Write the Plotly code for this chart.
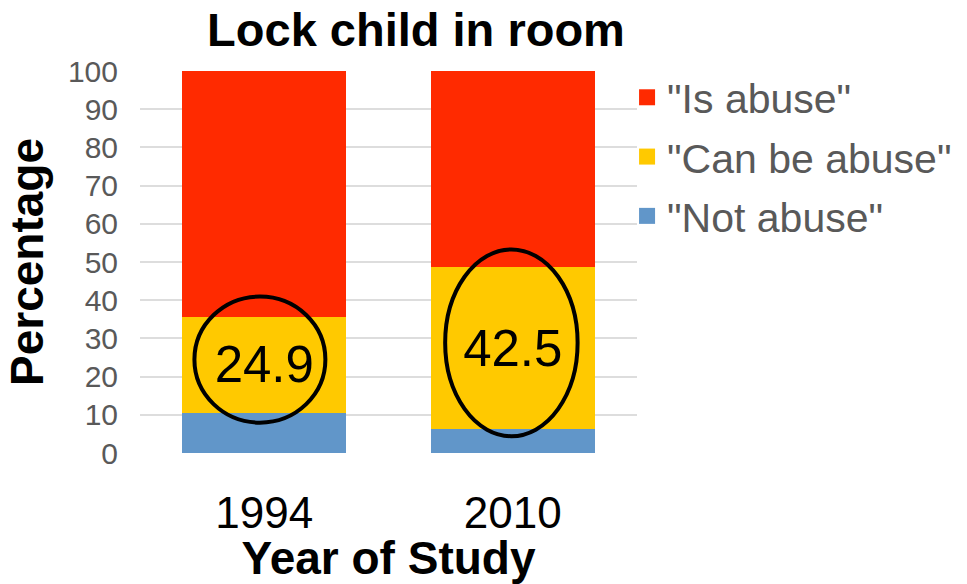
import plotly.graph_objects as go

# Survey results: share of respondents rating "lock child in room"
years = ["1994", "2010"]
not_abuse = [10.6, 6.2]
can_be_abuse = [24.9, 42.5]
is_abuse = [64.5, 51.3]
y_ticks = [0, 10, 20, 30, 40, 50, 60, 70, 80, 90, 100]

FONT = "Liberation Sans, Arial, sans-serif"
GRAY = "#595959"
COLORS = {"not": "#6196C9", "can": "#FFC900", "is": "#FF2A00"}

fig = go.Figure()
fig.add_trace(go.Bar(x=years, y=not_abuse, name='"Not abuse"',
                     marker=dict(color=COLORS["not"], line=dict(width=0)),
                     showlegend=False))
fig.add_trace(go.Bar(x=years, y=can_be_abuse, name='"Can be abuse"',
                     marker=dict(color=COLORS["can"], line=dict(width=0)),
                     text=[f"{v}" for v in can_be_abuse],
                     textposition="inside", insidetextanchor="middle",
                     textangle=0, constraintext="none",
                     textfont=dict(size=51, color="black", family=FONT),
                     showlegend=False))
fig.add_trace(go.Bar(x=years, y=is_abuse, name='"Is abuse"',
                     marker=dict(color=COLORS["is"], line=dict(width=0)),
                     showlegend=False))

# Legend entries with larger square keys
for rank, (key, label) in enumerate([("is", '"Is abuse"'),
                                      ("can", '"Can be abuse"'),
                                      ("not", '"Not abuse"')]):
    fig.add_trace(go.Scatter(x=[None], y=[None], mode="markers", name=label,
                             marker=dict(symbol="square", size=22, color=COLORS[key],
                                         line=dict(width=0)),
                             legendgroup=key, legendrank=rank + 1))

# Ellipses highlighting the "Can be abuse" segment of each bar
ellipse_half_width = [(-0.281, 0.246), (-0.272, 0.261)]
ellipse_half_height = [16.5, 24.45]
ellipse_lift = 1.4
for i in range(len(years)):
    mid = not_abuse[i] + can_be_abuse[i] / 2 + ellipse_lift
    fig.add_shape(type="circle", xref="x", yref="y",
                  x0=i + ellipse_half_width[i][0], x1=i + ellipse_half_width[i][1],
                  y0=mid - ellipse_half_height[i], y1=mid + ellipse_half_height[i],
                  line=dict(color="black", width=4), layer="above")

fig.update_layout(
    barmode="stack",
    bargap=0.34,
    width=967, height=584,
    margin=dict(l=140, r=330, t=71, b=131, autoexpand=False),
    plot_bgcolor="white", paper_bgcolor="white",
    font=dict(family=FONT, color=GRAY),
    title=dict(text="Lock child in room", x=416 / 967, xref="container",
               y=1 - 30 / 584, yanchor="middle", xanchor="center",
               font=dict(size=47, color="black", family=FONT, weight="bold")),
    legend=dict(x=0.98, xanchor="left", y=1.018, yanchor="top",
                traceorder="grouped", tracegroupgap=3, itemsizing="trace",
                font=dict(size=41, color=GRAY, family=FONT),
                bgcolor="rgba(0,0,0,0)", itemwidth=30),
    xaxis=dict(type="category", showgrid=False, showline=False, zeroline=False,
               ticks="outside", ticklen=21, tickcolor="rgba(0,0,0,0)",
               tickfont=dict(size=44, color="black", family=FONT),
               title=dict(text="Year of Study", standoff=12,
                          font=dict(size=46, color="black", family=FONT, weight="bold"))),
    yaxis=dict(range=[0, 100], tickvals=y_ticks, showgrid=True,
               gridcolor="#DDDDDD", gridwidth=2, zeroline=False, showline=False,
               ticks="outside", ticklen=15, tickcolor="rgba(0,0,0,0)",
               tickfont=dict(size=30, color=GRAY, family=FONT),
               title=dict(text="Percentage", standoff=9,
                          font=dict(size=46, color="black", family=FONT, weight="bold"))),
)

fig.write_html("out.html")
